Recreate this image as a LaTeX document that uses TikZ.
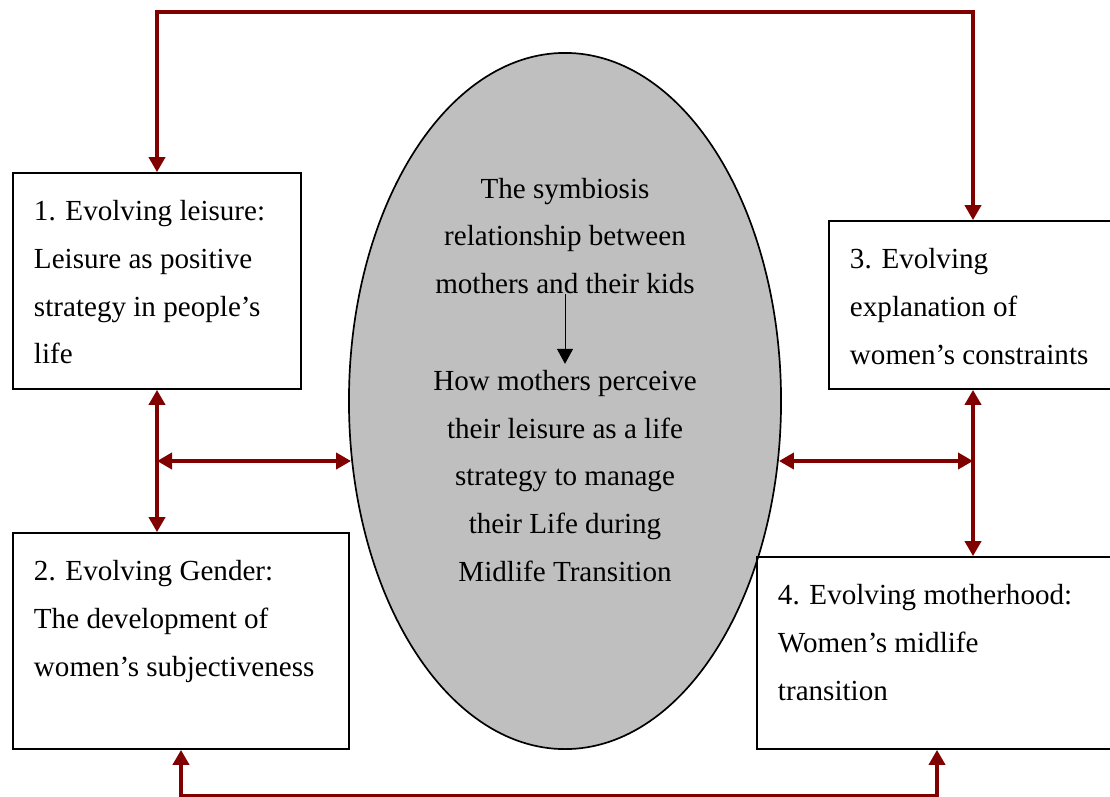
\documentclass[tikz,border=0pt]{standalone}
\usepackage{fontspec}
\setmainfont{Liberation Serif}
\usepackage{tikz}
\usetikzlibrary{arrows.meta, positioning, shapes.geometric}

\definecolor{linkred}{HTML}{800000}
\newcommand{\boxlines}[3]{\parbox[c][#1][t]{#2}{\raggedright\vspace*{0.68cm}#3}}

\begin{document}
\begin{tikzpicture}[x=0.025cm,y=-0.025cm,>={Triangle[width=0.4cm,length=0.375cm]},
        font=\fontsize{20.7}{34}\selectfont,
        themebox/.style={draw,line width=1.2pt,inner xsep=0.525cm,inner ysep=0pt},
        midellipse/.style={ellipse,draw,line width=1.2pt,fill=black!25,minimum width=10.8cm,minimum height=17.4cm,inner sep=0pt},
        midtext/.style={align=center,inner sep=0pt},
        link/.style={draw=linkred,line width=2.8pt}]

        \useasboundingbox (0,0) rectangle (1110,796);

        \node[midellipse] (core) at (565,401) {};
        \node[themebox] (leisure) at (157,281) {\boxlines{5.4cm}{6.15cm}{1. Evolving leisure:\\ Leisure as positive\\ strategy in people’s\\ life}};
        \node[themebox] (gender) at (181,641) {\boxlines{5.4cm}{7.35cm}{2. Evolving Gender:\\ The development of\\ women’s subjectiveness}};
        \node[themebox] (constraints) at (973,305) {\boxlines{4.2cm}{6.15cm}{3. Evolving\\ explanation of\\ women’s constraints}};
        \node[themebox] (motherhood) at (937,653) {\boxlines{4.8cm}{7.95cm}{4. Evolving motherhood:\\ Women’s midlife\\ transition}};

        \node[midtext] (symbiosis) at (565,236) {The symbiosis\\ relationship between\\ mothers and their kids};
        \node[midtext] (perceive) at (565,476) {How mothers perceive\\ their leisure as a life\\ strategy to manage\\ their Life during\\ Midlife Transition};
        \draw[->,line width=0.7pt,shorten >=0.15cm] (symbiosis.south) -- (perceive.north);

        % links between the themes
        \draw[link,<->] (leisure.north) -- ++(0,-160) -| (constraints.north);
        \draw[link,<->] (gender.south) -- ++(0,46) -| (motherhood.south);
        \draw[link,<->] (leisure.south) -- (leisure.south |- gender.north);
        \draw[link,<->] (constraints.south) -- (constraints.south |- motherhood.north);

        \coordinate (midL) at (157,461);
        \coordinate (midR) at (973,461);
        \draw[link,<->] (midL) -- (midL -| core.195.7);
        \draw[link,<->] (midR) -- (midR -| core.-15.7);
    \end{tikzpicture}
\end{document}
